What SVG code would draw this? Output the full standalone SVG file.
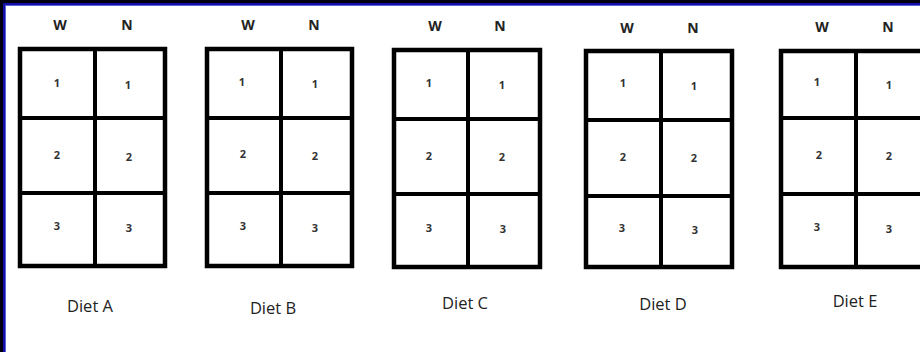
<svg xmlns="http://www.w3.org/2000/svg" width="920" height="352" viewBox="0 0 920 352">
<style>
.bg{fill:#ffffff}
.grid{fill:#ffffff;stroke:#000000;stroke-width:4.5}
.ln{stroke:#000000;stroke-width:4}
.hd{font-family:"Open Sans","Liberation Sans",sans-serif;font-size:14px;font-weight:bold;fill:#222;text-anchor:middle}
.num{font-family:"Open Sans","Liberation Sans",sans-serif;font-size:11px;font-weight:bold;fill:#333;text-anchor:middle}
.lbl{font-family:"Open Sans","Liberation Sans",sans-serif;font-size:16.5px;fill:#222;text-anchor:middle}
</style>
<rect class="bg" x="0" y="0" width="920" height="352"/>
<rect x="0" y="0" width="920" height="3" fill="#000010"/>
<rect x="0" y="0" width="3" height="352" fill="#000010"/>
<rect x="3" y="3" width="917" height="2" fill="#1010a8"/>
<rect x="3" y="3" width="2" height="349" fill="#1010a8"/>
<rect x="5" y="5" width="915" height="1" fill="#6060d8"/>
<rect x="5" y="5" width="1" height="347" fill="#6060d8"/>

<g id="diet-a">
<text class="hd" x="60" y="30">W</text><text class="hd" x="127" y="30">N</text>
<rect class="grid" x="20" y="49" width="145" height="217"/>
<line class="ln" x1="95" y1="49" x2="95" y2="266"/>
<line class="ln" x1="20" y1="118" x2="165" y2="118"/>
<line class="ln" x1="20" y1="193" x2="165" y2="193"/>
<text class="num" x="57" y="87">1</text><text class="num" x="128" y="89">1</text>
<text class="num" x="57" y="159">2</text><text class="num" x="129" y="161">2</text>
<text class="num" x="57" y="230">3</text><text class="num" x="129" y="232">3</text>
<text class="lbl" x="90" y="312">Diet A</text>
</g>

<g id="diet-b">
<text class="hd" x="248" y="30">W</text><text class="hd" x="314" y="30">N</text>
<rect class="grid" x="207" y="49" width="145" height="217"/>
<line class="ln" x1="281" y1="49" x2="281" y2="266"/>
<line class="ln" x1="207" y1="118" x2="352" y2="118"/>
<line class="ln" x1="207" y1="193" x2="352" y2="193"/>
<text class="num" x="242" y="86">1</text><text class="num" x="315" y="88">1</text>
<text class="num" x="243" y="158">2</text><text class="num" x="315" y="160">2</text>
<text class="num" x="243" y="230">3</text><text class="num" x="315" y="232">3</text>
<text class="lbl" x="273" y="314">Diet B</text>
</g>

<g id="diet-c">
<text class="hd" x="435" y="31">W</text><text class="hd" x="500" y="31">N</text>
<rect class="grid" x="394" y="50" width="146" height="217"/>
<line class="ln" x1="468" y1="50" x2="468" y2="267"/>
<line class="ln" x1="394" y1="119" x2="540" y2="119"/>
<line class="ln" x1="394" y1="194" x2="540" y2="194"/>
<text class="num" x="429" y="87">1</text><text class="num" x="502" y="89">1</text>
<text class="num" x="429" y="160">2</text><text class="num" x="502" y="161">2</text>
<text class="num" x="429" y="232">3</text><text class="num" x="503" y="233">3</text>
<text class="lbl" x="465" y="309">Diet C</text>
</g>

<g id="diet-d">
<text class="hd" x="627" y="33">W</text><text class="hd" x="693" y="33">N</text>
<rect class="grid" x="586" y="51" width="146" height="216"/>
<line class="ln" x1="661" y1="51" x2="661" y2="267"/>
<line class="ln" x1="586" y1="120" x2="732" y2="120"/>
<line class="ln" x1="586" y1="196" x2="732" y2="196"/>
<text class="num" x="623" y="87">1</text><text class="num" x="694" y="90">1</text>
<text class="num" x="623" y="161">2</text><text class="num" x="694" y="162">2</text>
<text class="num" x="622" y="232">3</text><text class="num" x="695" y="234">3</text>
<text class="lbl" x="663" y="310">Diet D</text>
</g>

<g id="diet-e">
<text class="hd" x="822" y="32">W</text><text class="hd" x="888" y="32">N</text>
<rect class="grid" x="781" y="51" width="150" height="216"/>
<line class="ln" x1="856" y1="51" x2="856" y2="267"/>
<line class="ln" x1="781" y1="118" x2="931" y2="118"/>
<line class="ln" x1="781" y1="194" x2="931" y2="194"/>
<text class="num" x="817" y="86">1</text><text class="num" x="889" y="89">1</text>
<text class="num" x="819" y="159">2</text><text class="num" x="889" y="160">2</text>
<text class="num" x="817" y="231">3</text><text class="num" x="889" y="233">3</text>
<text class="lbl" x="855" y="307">Diet E</text>
</g>

<g id="connectors"/>
</svg>
